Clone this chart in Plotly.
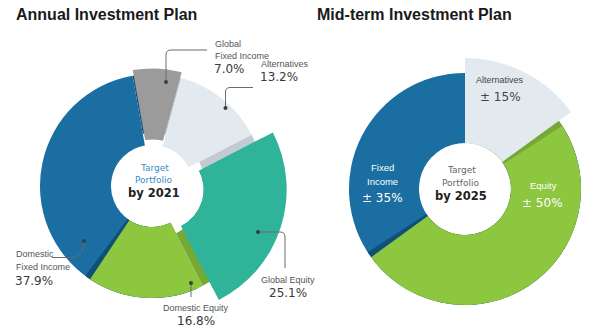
import plotly.graph_objects as go

W, H = 600, 334

# ---------------- data ----------------
annual_labels = ["Global Fixed Income", "Alternatives", "Global Equity",
                 "Domestic Equity", "Domestic Fixed Income"]
annual_values = [7.0, 13.2, 25.1, 16.8, 37.9]
annual_year = "2021"

midterm_labels = ["Alternatives", "Equity", "Fixed Income"]
midterm_values = [15, 50, 35]
midterm_year = "2025"

# ---------------- styles ----------------
BLUE, GREEN, TEAL, GRAY, LIGHT = "#1B6EA1", "#8DC63F", "#2FB49A", "#9B9B9B", "#E2E9EF"
DARKBLUE, OLIVE, SHADE = "#124F78", "#76A838", "#C3CBD2"
NONE = "rgba(0,0,0,0)"
annual_colors = [GRAY, LIGHT, TEAL, GREEN, BLUE]
annual_pull = [0.05, 0.0, 0.10, 0, 0]
midterm_colors = [LIGHT, GREEN, BLUE]
L_ROT = -10

NAME_FONT = "Liberation Sans"
PCT_FONT = "DejaVu Sans"


def P(x, y):
    return x / W, 1 - y / H


def domain(cx, cy, r, pull=0.0):
    half = r * (1 + pull)
    return dict(x=[(cx - half) / W, (cx + half) / W],
                y=[1 - (cy + half) / H, 1 - (cy - half) / H])


fig = go.Figure()


def pie(values, colors, cx, cy, r, hole_px, rotation=0, pull=None, labels=None, hover=False):
    pull = pull or [0] * len(values)
    fig.add_trace(go.Pie(
        values=values, labels=labels, sort=False, direction="clockwise",
        rotation=rotation, hole=hole_px / r, pull=pull,
        marker=dict(colors=colors, line=dict(width=0)),
        textinfo="none", hoverinfo=("label+value" if hover else "skip"), showlegend=False,
        domain=domain(cx, cy, r, max(pull)),
    ))


def only(labels, keep, color):
    return [color if l == keep else NONE for l in labels]


# ---------- Annual (left) ----------
L_CX, L_CY, L_R, L_HOLE = 152, 186, 112, 41

# shadow layer under the pulled slices (each pulled slice split in two halves)
shadow_vals, shadow_cols = [], []
for lab, v, p in zip(annual_labels, annual_values, annual_pull):
    if p > 0:
        left_col = DARKBLUE if lab == "Global Fixed Income" else SHADE
        right_col = SHADE if lab == "Global Fixed Income" else OLIVE
        shadow_vals += [v / 2, v / 2]
        shadow_cols += [left_col, right_col]
    else:
        shadow_vals.append(v)
        shadow_cols.append(NONE)
pie(shadow_vals, shadow_cols, L_CX, L_CY, L_R, L_HOLE + 12, L_ROT)

# main ring
pie(annual_values, annual_colors, L_CX, L_CY, L_R, L_HOLE, L_ROT, annual_pull, annual_labels, True)
# dark edge on blue along the green boundary
pie(annual_values, only(annual_labels, "Domestic Equity", DARKBLUE), L_CX, L_CY, L_R, L_HOLE, L_ROT + 3)
pie(annual_values, only(annual_labels, "Domestic Equity", GREEN), L_CX, L_CY, L_R, L_HOLE, L_ROT)
# enlarged, pulled Global Equity slice
ge_shift = L_R * annual_pull[2]
GE_R = 124
pie(annual_values, only(annual_labels, "Global Equity", TEAL), L_CX, L_CY, GE_R, L_HOLE,
    L_ROT, [ge_shift / GE_R if l == "Global Equity" else 0 for l in annual_labels])

# ---------- Mid-term (right) ----------
R_CX, R_CY, R_R, R_HOLE = 465, 189, 116, 46
pie(midterm_values, midterm_colors, R_CX, R_CY, R_R, R_HOLE, 0, None, midterm_labels, True)
# dark edge on blue along the green boundary
pie(midterm_values, only(midterm_labels, "Equity", DARKBLUE), R_CX, R_CY, R_R, R_HOLE, 3)
pie(midterm_values, only(midterm_labels, "Equity", GREEN), R_CX, R_CY, R_R, R_HOLE, 0)
# olive edge on green along the Alternatives boundary
pie(midterm_values, only(midterm_labels, "Alternatives", OLIVE), R_CX, R_CY, R_R, R_HOLE, 3)
# enlarged Alternatives slice
pie(midterm_values, only(midterm_labels, "Alternatives", LIGHT), R_CX, R_CY, 131, R_HOLE, 0)

ann = []


def text(x, y, s, size, color="#555", font=NAME_FONT, anchor="left", bold=False):
    xx, yy = P(x, y)
    ann.append(dict(x=xx, y=yy, xref="paper", yref="paper", text=(f"<b>{s}</b>" if bold else s),
                    showarrow=False, xanchor=anchor, yanchor="middle",
                    font=dict(size=size, color=color, family=font)))


# titles
text(14, 15, "Annual Investment Plan", 16, "#1a1a1a", "Liberation Sans", bold=True)
text(315, 15, "Mid-term Investment Plan", 16, "#1a1a1a", "Liberation Sans", bold=True)

# centers
text(154, 168, "Target", 9, "#3A8CC4", PCT_FONT, "center")
text(154, 180, "Portfolio", 9, "#3A8CC4", PCT_FONT, "center")
text(154, 193, f"by {annual_year}", 11.5, "#222", PCT_FONT, "center", bold=True)
text(461, 170, "Target", 9, "#666", PCT_FONT, "center")
text(461, 183, "Portfolio", 9, "#666", PCT_FONT, "center")
text(461, 196, f"by {midterm_year}", 11.5, "#222", PCT_FONT, "center", bold=True)

# left labels
av = dict(zip(annual_labels, annual_values))
text(213, 44, "Global", 9)
text(213, 56, "Fixed Income", 9)
text(212, 69, f"{av['Global Fixed Income']:.1f}%", 12, "#3a3a3a", PCT_FONT)
text(259, 64, "Alternatives", 9)
text(258, 77, f"{av['Alternatives']:.1f}%", 12, "#3a3a3a", PCT_FONT)
text(288, 280, "Global Equity", 9, anchor="center")
text(288, 293, f"{av['Global Equity']:.1f}%", 12, "#3a3a3a", PCT_FONT, "center")
text(196, 308, "Domestic Equity", 9, anchor="center")
text(196, 321, f"{av['Domestic Equity']:.1f}%", 12, "#3a3a3a", PCT_FONT, "center")
text(14, 254, "Domestic", 9)
text(14, 267, "Fixed Income", 9)
text(13, 281, f"{av['Domestic Fixed Income']:.1f}%", 12, "#3a3a3a", PCT_FONT)

# right labels
mv = dict(zip(midterm_labels, midterm_values))
text(382, 167, "Fixed", 9.5, "white", anchor="center")
text(382, 181, "Income", 9.5, "white", anchor="center")
text(382, 198, f"± {mv['Fixed Income']}%", 12, "white", PCT_FONT, "center")
text(543, 186, "Equity", 9.5, "white", anchor="center")
text(542, 203, f"± {mv['Equity']}%", 12, "white", PCT_FONT, "center")
text(500, 80, "Alternatives", 9, "#444", anchor="center")
text(500, 97, f"± {mv['Alternatives']}%", 12, "#444", PCT_FONT, "center")

# leader lines
shapes = []


def path(pts_cmd):
    s = ""
    for cmd, coords in pts_cmd:
        cs = []
        for i in range(0, len(coords), 2):
            xx, yy = P(coords[i], coords[i + 1])
            cs.append(f"{xx:.5f},{yy:.5f}")
        s += cmd + " " + " ".join(cs) + " "
    shapes.append(dict(type="path", path=s.strip(), xref="paper", yref="paper",
                       line=dict(color="#6b6b6b", width=1), layer="above"))


def dot(x, y, r=2.0):
    x0, y0 = P(x - r, y - r)
    x1, y1 = P(x + r, y + r)
    shapes.append(dict(type="circle", x0=x0, x1=x1, y0=y1, y1=y0, xref="paper", yref="paper",
                       fillcolor="#3d3d3d", line=dict(width=0), layer="above"))


path([("M", [166, 82]), ("L", [166, 55]), ("Q", [166, 50, 171, 50]), ("L", [207, 50])])
dot(166, 82)
path([("M", [225.5, 108]), ("L", [225.5, 92]), ("Q", [225.5, 87.5, 230, 87.5]), ("L", [253, 87.5])])
dot(225.5, 108)
path([("M", [258, 232]), ("L", [280, 232]), ("Q", [285, 232, 285, 237]), ("L", [285, 268])])
dot(258, 232)
path([("M", [191, 283]), ("L", [191, 297])])
dot(191, 283)
path([("M", [84, 241]), ("C", [84, 250, 80, 257.5, 72, 257.5]), ("L", [52, 257.5])])
dot(84, 241)

fig.update_layout(
    width=W, height=H, margin=dict(l=0, r=0, t=0, b=0),
    paper_bgcolor="white", plot_bgcolor="white",
    annotations=ann, shapes=shapes, showlegend=False,
)

fig.write_html("out.html")
